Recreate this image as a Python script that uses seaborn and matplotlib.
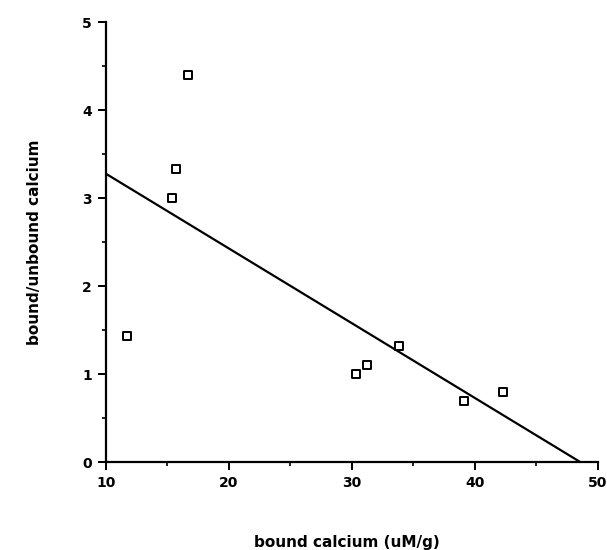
import numpy as np
import pandas as pd
import matplotlib
matplotlib.use("Agg")
import matplotlib.pyplot as plt
from matplotlib.ticker import MultipleLocator
import seaborn as sns

# Scatchard-style data
bound_calcium = [11.7, 15.4, 15.7, 16.7, 30.3, 31.2, 33.8, 39.1, 42.3]
bound_unbound_ratio = [1.43, 3.00, 3.33, 4.40, 1.00, 1.10, 1.32, 0.69, 0.79]

x_ticks = [10, 20, 30, 40, 50]
y_ticks = [0, 1, 2, 3, 4, 5]

df = pd.DataFrame({"bound": bound_calcium, "ratio": bound_unbound_ratio})

sns.set_style("ticks", {"text.color": "black", "axes.labelcolor": "black",
                        "xtick.color": "black", "ytick.color": "black"})
plt.rcParams['font.family'] = ['DejaVu Sans']

fig = plt.figure(figsize=(6.07, 5.5), dpi=100)
ax = fig.add_axes([0.1746, 0.16, 0.8104, 0.80])

# limits first so the fitted line spans the whole x range
ax.set_xlim(10, 50)
ax.set_ylim(0, 5)

sns.regplot(data=df, x="bound", y="ratio", ax=ax, scatter=False, ci=None,
            truncate=False, line_kws={"color": "black", "linewidth": 1.6})

sns.scatterplot(data=df, x="bound", y="ratio", ax=ax, marker="s", s=36,
                facecolor="white", edgecolor="black", linewidth=1.4, zorder=3)

ax.set_xlim(10, 50)
ax.set_ylim(0, 5)
ax.set_xticks(x_ticks)
ax.set_yticks(y_ticks)
ax.xaxis.set_minor_locator(MultipleLocator(5))
ax.yaxis.set_minor_locator(MultipleLocator(0.5))
ax.tick_params(which="major", direction="out", length=6, width=1.4,
               labelsize=10, pad=4)
ax.tick_params(which="minor", direction="out", length=3, width=1.2)
for lbl in ax.get_xticklabels() + ax.get_yticklabels():
    lbl.set_fontweight("bold")

sns.despine(ax=ax)
for side in ["left", "bottom"]:
    ax.spines[side].set_linewidth(1.6)
    ax.spines[side].set_color("black")

ax.set_xlabel("bound calcium (uM/g)", fontsize=11, fontweight="bold")
ax.set_ylabel("bound/unbound calcium", fontsize=11, fontweight="bold")
ax.xaxis.set_label_coords(0.49, -0.165)
ax.yaxis.set_label_coords(-0.13, 0.5)

fig.savefig("out.png", dpi=100)
